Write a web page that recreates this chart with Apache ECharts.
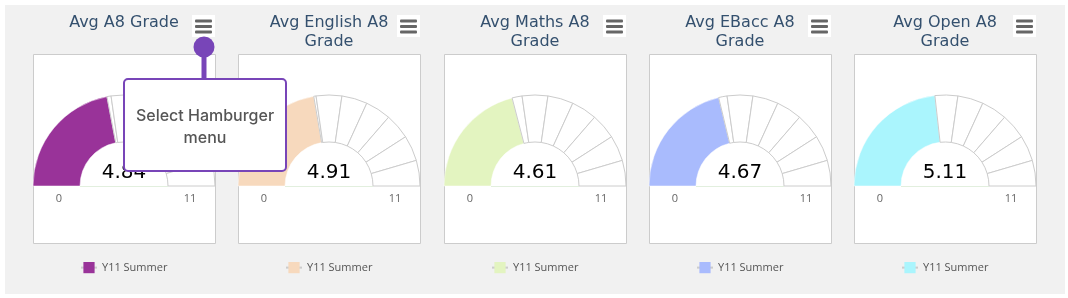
<!DOCTYPE html>
<html>
<head>
<meta charset="utf-8">
<script src="https://cdn.jsdelivr.net/npm/echarts@6/dist/echarts.min.js"></script>
<style>
  html, body { margin: 0; padding: 0; background: #fff; }
  #main { width: 1068px; height: 298px; }
</style>
</head>
<body>
<div id="main"></div>
<script>
const titles = ['Avg A8 Grade', 'Avg English A8\nGrade', 'Avg Maths A8\nGrade', 'Avg EBacc A8\nGrade', 'Avg Open A8\nGrade']
const values = [4.84, 4.91, 4.61, 4.67, 5.11]
const seriesName = 'Y11 Summer'
const gaugeMin = 0, gaugeMax = 11
const tickLabels = ['0', '11']
const hintText = 'Select Hamburger\nmenu'

const colors = ['#993399', '#f7d9bd', '#e3f4c0', '#a9bbfd', '#aaf5fd']
const purple = '#7845b8'

const chart = echarts.init(document.getElementById('main'))

// panel geometry
const boxW = 182, boxTop = 54, boxH = 189
const baseY = 186, rOut = 91, rIn = 44
const lefts = titles.map((t, i) => Math.round(33 + i * 205.25))
const centers = lefts.map(l => l + boxW / 2)

// colored part up to the value, then white cells at every whole grade, then a hidden bottom half
function gaugeSlices(v, color) {
  const out = [{ value: v - gaugeMin, itemStyle: { color: color, borderColor: '#fff', borderWidth: 0.5 } }]
  let prev = v
  for (let t = Math.floor(v) + 1; t <= gaugeMax; t++) {
    out.push({ value: t - prev, itemStyle: { color: '#fff', borderColor: '#ccc', borderWidth: 1 } })
    prev = t
  }
  out.push({ value: gaugeMax - gaugeMin, itemStyle: { color: 'transparent', borderWidth: 0 } })
  return out
}

const graphics = [
  { type: 'rect', z: -10, shape: { x: 5, y: 5, width: 1060, height: 289 }, style: { fill: '#f1f1f1' } }
]
lefts.forEach((l, i) => {
  const cx = centers[i]
  graphics.push(
    { type: 'rect', z: -5, shape: { x: l + 0.5, y: boxTop + 0.5, width: boxW, height: boxH }, style: { fill: '#fff', stroke: '#ccc', lineWidth: 1 } },
    { type: 'rect', z: -5, shape: { x: l + boxW - 23, y: 15, width: 23, height: 22 }, style: { fill: '#fff' } },
    { type: 'rect', z: -4, shape: { x: l + boxW - 20, y: 19.5, width: 17, height: 3, r: 1 }, style: { fill: '#666' } },
    { type: 'rect', z: -4, shape: { x: l + boxW - 20, y: 25, width: 17, height: 3, r: 1 }, style: { fill: '#666' } },
    { type: 'rect', z: -4, shape: { x: l + boxW - 20, y: 30.5, width: 17, height: 3, r: 1 }, style: { fill: '#666' } },
    { type: 'line', z: -4, shape: { x1: cx - rIn, y1: baseY + 0.5, x2: cx + rIn, y2: baseY + 0.5 }, style: { stroke: '#e2efde', lineWidth: 1 } },
    { type: 'text', z: 10, x: cx, y: 173, style: { text: values[i].toFixed(2), fontFamily: 'DejaVu Sans', fontSize: 20, fill: '#000', align: 'center', verticalAlign: 'middle' } },
    { type: 'text', z: 10, x: cx - 65, y: 199, style: { text: tickLabels[0], fontFamily: 'Open Sans', fontSize: 11, fill: '#666', align: 'center', verticalAlign: 'middle' } },
    { type: 'text', z: 10, x: cx + 66, y: 199, style: { text: tickLabels[1], fontFamily: 'Open Sans', fontSize: 11, fill: '#666', align: 'center', verticalAlign: 'middle' } }
  )
})

// the hint callout over the first menu button
graphics.push(
  { type: 'circle', z: 100, shape: { cx: 204, cy: 47, r: 10.5 }, style: { fill: purple } },
  { type: 'rect', z: 100, shape: { x: 201.5, y: 52, width: 5, height: 28 }, style: { fill: purple } },
  { type: 'rect', z: 101, shape: { x: 124, y: 79, width: 162, height: 92, r: 4 }, style: { fill: '#fff', stroke: purple, lineWidth: 2 } },
  { type: 'text', z: 102, x: 205, y: 127, style: { text: hintText, fontFamily: 'Inter', fontSize: 16, fontWeight: 500, lineHeight: 22, fill: '#555', align: 'center', verticalAlign: 'middle' } }
)

const series = []
values.forEach((v, i) => {
  series.push({
    type: 'pie',
    silent: true,
    center: [centers[i], baseY],
    radius: [rIn, rOut],
    startAngle: 180,
    clockwise: true,
    label: { show: false },
    labelLine: { show: false },
    emphasis: { disabled: true },
    data: gaugeSlices(v, colors[i])
  })
  series.push({
    type: 'line',
    name: seriesName + '|' + i,
    data: [],
    symbol: 'rect',
    itemStyle: { color: colors[i] },
    lineStyle: { color: '#ccc', width: 2 }
  })
})

chart.setOption({
  animation: false,
  title: titles.map((t, i) => ({
    text: t,
    left: centers[i],
    top: 14,
    padding: 0,
    textAlign: 'center',
    textStyle: { fontFamily: 'DejaVu Sans', fontSize: 16, fontWeight: 'normal', color: '#34506e', lineHeight: 18.5 }
  })),
  legend: values.map((v, i) => ({
    data: [seriesName + '|' + i],
    left: centers[i] - 44,
    top: 262,
    padding: 0,
    itemWidth: 16,
    itemHeight: 14,
    selectedMode: false,
    formatter: n => n.split('|')[0],
    textStyle: { fontFamily: 'Open Sans', fontSize: 11, color: '#555' }
  })),
  grid: { left: 0, top: 0, width: 1, height: 1, show: false },
  xAxis: { type: 'value', show: false },
  yAxis: { type: 'value', show: false },
  graphic: graphics,
  series: series
})
</script>
</body>
</html>
